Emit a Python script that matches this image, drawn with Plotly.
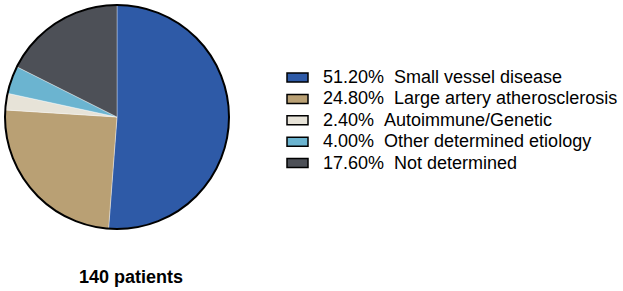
import plotly.graph_objects as go

# ---- data ----
categories = ["Small vessel disease", "Large artery atherosclerosis",
              "Autoimmune/Genetic", "Other determined etiology", "Not determined"]
percentages = [51.20, 24.80, 2.40, 4.00, 17.60]
colors = ["#2E5AA7", "#B9A074", "#E7E3D8", "#6BB4D0", "#4D5057"]
title_text = "140 patients"

W, H = 623, 291
cx, cy, r = 117, 117, 112  # pie center/radius in px (from top-left)

def px(x):
    return x / W

def py(y):
    return 1 - y / H

fig = go.Figure()
fig.add_trace(go.Pie(
    labels=categories,
    values=percentages,
    sort=False,
    direction="clockwise",
    rotation=0,
    textinfo="none",
    hoverinfo="label+percent",
    marker=dict(colors=colors, line=dict(color="rgba(255,255,255,0.6)", width=0.6)),
    domain=dict(x=[px(cx - r), px(cx + r)], y=[py(cy + r), py(cy - r)]),
    showlegend=False,
))

shapes = [dict(type="circle", xref="paper", yref="paper",
               x0=px(cx - r), x1=px(cx + r), y0=py(cy + r), y1=py(cy - r),
               line=dict(color="black", width=2), fillcolor="rgba(0,0,0,0)")]
annotations = []
row0, step = 77.5, 21.4
for i, (cat, pct, col) in enumerate(zip(categories, percentages, colors)):
    yc = row0 + i * step
    shapes.append(dict(type="rect", xref="paper", yref="paper",
                       x0=px(287), x1=px(308), y0=py(yc + 4.5), y1=py(yc - 4.5),
                       fillcolor=col, line=dict(color="black", width=1.5)))
    annotations.append(dict(xref="paper", yref="paper", x=px(321), y=py(yc - 0.5),
                            xanchor="left", yanchor="middle", showarrow=False,
                            text=f"{pct:.2f}%\u00a0\u00a0{cat}",
                            font=dict(family="Liberation Sans, Arial", size=18, color="black")))

annotations.append(dict(xref="paper", yref="paper", x=px(131), y=py(277),
                        xanchor="center", yanchor="middle", showarrow=False,
                        text=f"<b>{title_text}</b>",
                        font=dict(family="Liberation Sans, Arial", size=18, color="black")))

fig.update_layout(
    width=W, height=H,
    margin=dict(l=0, r=0, t=0, b=0),
    paper_bgcolor="white", plot_bgcolor="white",
    shapes=shapes, annotations=annotations,
)

fig.write_html("out.html", config={"displayModeBar": False},
               post_script="document.body.style.margin='0';document.body.style.overflow='hidden';")
